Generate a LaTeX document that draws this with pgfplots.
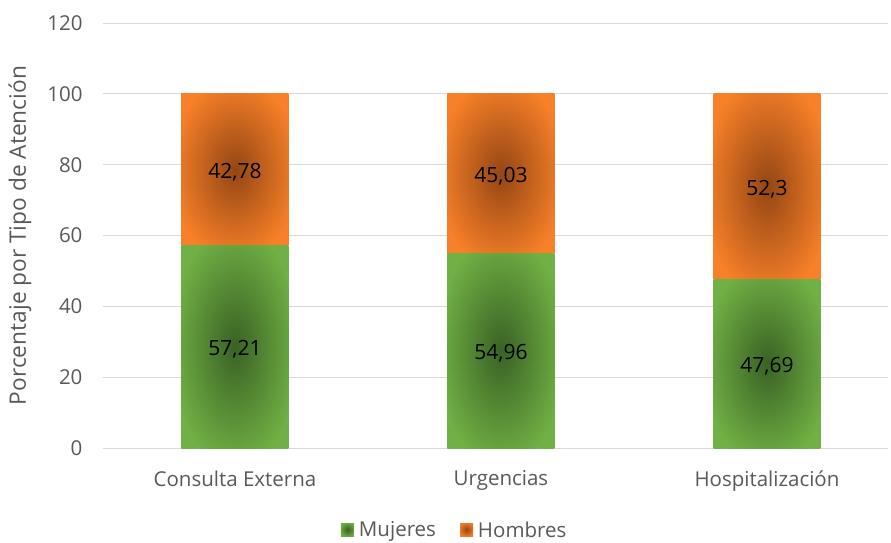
\documentclass[border=0pt]{standalone}
\usepackage{pgfplots}
\pgfplotsset{compat=1.18}
\usepackage{fontspec}
\setmainfont{Open Sans}
\definecolor{txt}{RGB}{89,89,89}
\definecolor{grd}{RGB}{217,217,217}
\definecolor{gout}{RGB}{112,176,68}
\definecolor{gin}{RGB}{58,98,36}
\definecolor{oout}{RGB}{247,128,40}
\definecolor{oin}{RGB}{148,70,20}
\pgfdeclareradialshading{gsh}{\pgfpoint{0bp}{0bp}}{color(0bp)=(gin); color(30bp)=(gout); color(50bp)=(gout)}
\pgfdeclareradialshading{osh}{\pgfpoint{0bp}{0bp}}{color(0bp)=(oin); color(30bp)=(oout); color(50bp)=(oout)}
% one axis per category, so that each bar gets its own radial shading
\pgfplotsset{
  sqleg/.style={legend image code/.code={\fill[##1] (0pt,-6pt) rectangle (13pt,7pt);}},
  mujer/.style={draw=none, shading=gsh, sqleg},
  hombre/.style={draw=none, shading=osh, sqleg},
  base/.style={
    at={(103pt,94pt)}, anchor=south west,
    scale only axis, width=785pt, height=425pt,
    ybar stacked, bar width=0.402,
    xmin=-0.496, xmax=2.455, ymin=0, ymax=120,
    point meta=explicit symbolic,
    nodes near coords,
    % stacked bars: labels already sit in the middle of their segment
    every node near coord/.append style={anchor=center, text=black,
      font=\fontsize{21}{24}\selectfont, yshift=-3pt},
  },
}
\begin{document}
\begin{tikzpicture}[font=\fontsize{20.5}{24}\selectfont]
\path[use as bounding box] (0,0) rectangle (891pt,542pt);
\begin{axis}[
  base,
  ytick={0,20,...,120},
  xtick={0,1,2}, xticklabels={Consulta Externa,Urgencias,Hospitalización},
  ymajorgrids, grid style={grd, line width=0.9pt},
  axis line style={draw=none},
  major tick length=0pt,
  tick label style={text=txt},
  /pgf/number format/assume math mode=true,
  yticklabel style={xshift=-17pt},
  xticklabel style={yshift=-19pt},
  ylabel={Porcentaje por Tipo de Atención},
  ylabel style={text=txt, font=\fontsize{22.7}{26}\selectfont,
    at={(axis description cs:-0.106,0.5)}, anchor=center},
  legend style={at={(0.448,-0.193)}, anchor=center, draw=none, legend columns=-1,
    text=txt,
    /tikz/every odd column/.append style={column sep=3pt},
    /tikz/every even column/.append style={column sep=22pt}},
]
\addplot[mujer] coordinates {(0,57.21)[57,21]};
\addplot[hombre] coordinates {(0,42.78)[42,78]};
\legend{Mujeres,Hombres}
\end{axis}
\begin{axis}[base, hide axis]
\addplot[mujer] coordinates {(1,54.96)[54,96]};
\addplot[hombre] coordinates {(1,45.03)[45,03]};
\end{axis}
\begin{axis}[base, hide axis]
\addplot[mujer] coordinates {(2,47.69)[47,69]};
\addplot[hombre] coordinates {(2,52.3)[52,3]};
\end{axis}
\end{tikzpicture}
\end{document}
